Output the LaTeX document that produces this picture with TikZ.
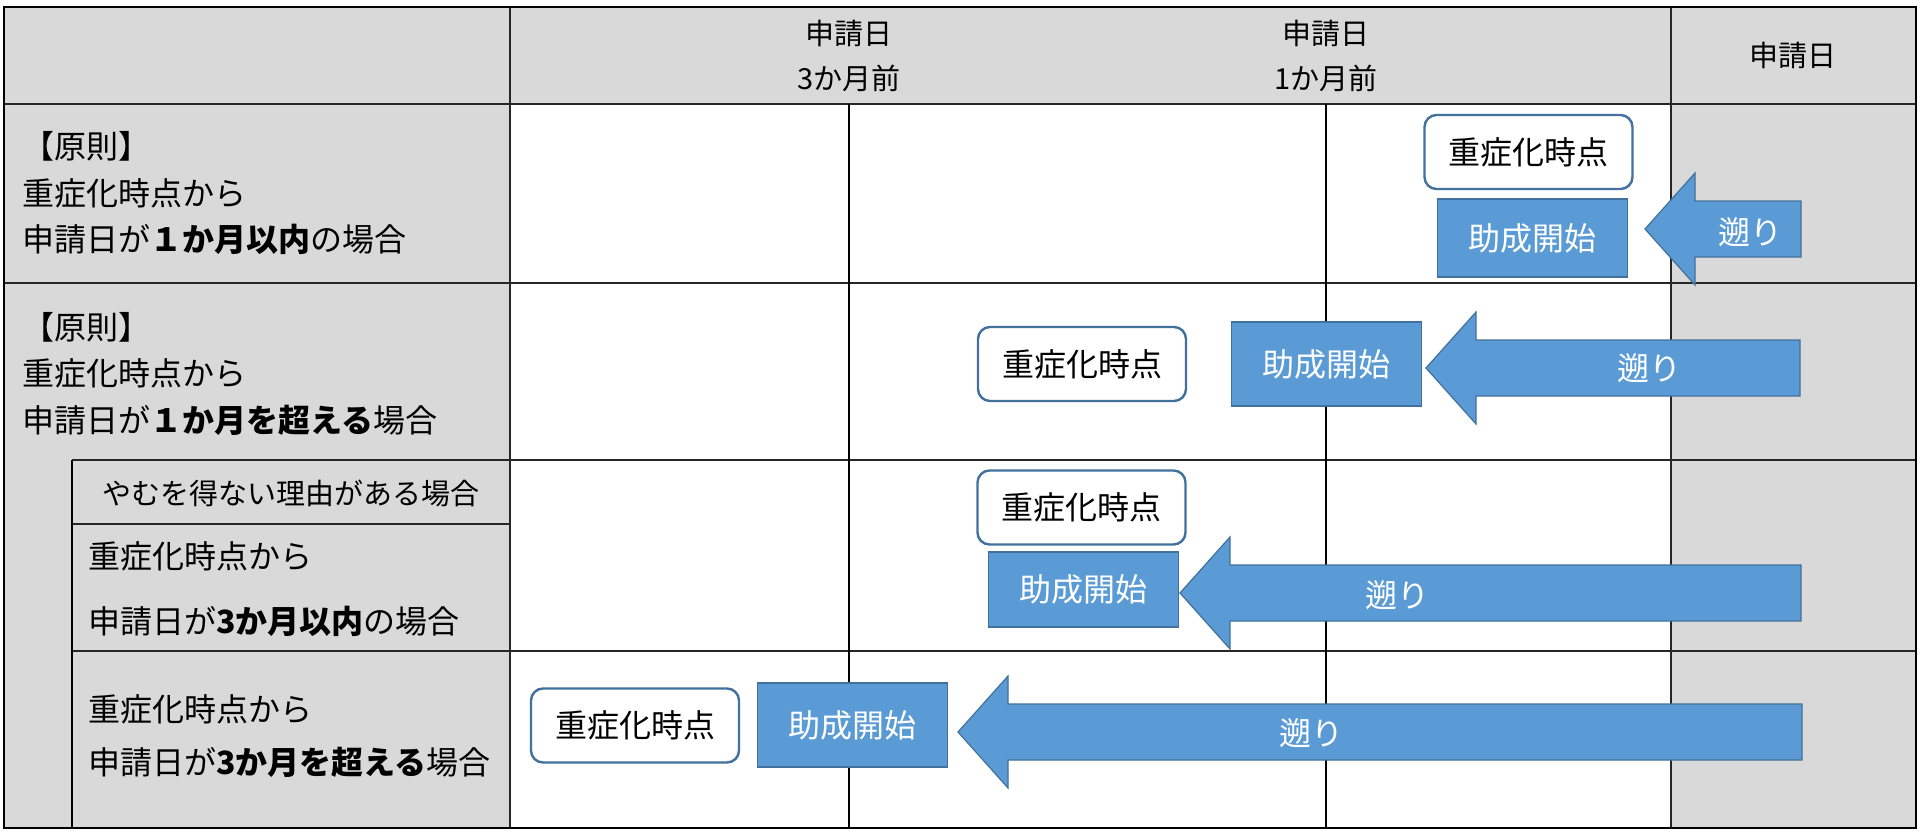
\documentclass[tikz,border=0pt]{standalone}
\usepackage{fontspec}
\setmainfont{Noto Sans CJK JP}
\definecolor{cellgray}{HTML}{D9D9D9}
\definecolor{bluefill}{HTML}{5B9BD5}
\definecolor{blueline}{HTML}{41719C}
\newcommand{\blkarrow}[3]{% tipx, y, tailx
  \filldraw[fill=bluefill,draw=blueline,line width=0.6pt,line join=miter]
    (#3,#2-28) -- (#1+50,#2-28) -- (#1+50,#2-56) -- (#1,#2) -- (#1+50,#2+56)
    -- (#1+50,#2+28) -- (#3,#2+28) -- cycle;}
\begin{document}
\begin{tikzpicture}[x=0.5pt,y=-0.5pt,
  hline/.style={line width=0.9pt,draw=black!85},
  vline/.style={line width=0.6pt,draw=black},
  lbl/.style={inner sep=0pt,anchor=west,align=left},
  hdr/.style={inner sep=0pt,align=center,font=\fontsize{14.5pt}{22.5pt}\selectfont},
  okbox/.style={draw=blueline,line width=1.2pt,fill=white,rounded corners=6pt,
     minimum width=104pt,minimum height=37pt,inner sep=0pt,font=\fontsize{16pt}{18pt}\selectfont},
  jobox/.style={draw=blueline,line width=0.6pt,fill=bluefill,text=white,
     minimum width=95pt,inner sep=0pt,font=\fontsize{16pt}{18pt}\selectfont},
  sotxt/.style={text=white,inner sep=0pt,font=\fontsize{16pt}{18pt}\selectfont}]
\useasboundingbox (0,0) rectangle (1921,835);
% backgrounds
\fill[cellgray] (4,7) rectangle (1916,828);
\fill[white] (510,104) rectangle (1671,828);
% horizontal lines
\draw[hline] (4,104) -- (1916,104);
\draw[hline] (4,283) -- (1916,283);
\draw[hline] (72,460) -- (1916,460);
\draw[hline] (72,524) -- (510,524);
\draw[hline] (72,651) -- (1916,651);
% vertical lines
\draw[vline] (72,460) -- (72,828);
\draw[vline] (849,104) -- (849,828);
\draw[vline] (1326,104) -- (1326,828);
\draw[hline] (510,7) -- (510,828);
\draw[hline] (1671,7) -- (1671,828);
% outer border
\draw[line width=1.1pt] (4,7) rectangle (1916,828);
% header
\node[hdr] (hdr1) at (849,56) {申請日\\3か月前};
\node[hdr] (hdr2) at (1326,56) {申請日\\1か月前};
\node[hdr] (hdr3) at (1793,55) {申請日};
% left labels
\node[lbl,font=\fontsize{16pt}{23.25pt}\selectfont] (l1) at (22,193.5)
  {【原則】\\重症化時点から\\申請日が\textbf{１か月以内}の場合};
\node[lbl,font=\fontsize{16pt}{23.25pt}\selectfont] (l2) at (22,373.5)
  {【原則】\\重症化時点から\\申請日が\textbf{１か月を超える}場合};
\node[inner sep=0pt,font=\fontsize{14.5pt}{18pt}\selectfont] (l3a) at (291,493) {やむを得ない理由がある場合};
\node[lbl,font=\fontsize{16pt}{32.5pt}\selectfont] (l3) at (88,589.5)
  {重症化時点から\\申請日が\textbf{3か月以内}の場合};
\node[lbl,font=\fontsize{16pt}{26.5pt}\selectfont] (l4) at (88,736.5)
  {重症化時点から\\申請日が\textbf{3か月を超える}場合};
% arrows
\blkarrow{1645}{229}{1801}
\blkarrow{1426}{368}{1800}
\blkarrow{1180}{593}{1801}
\blkarrow{958}{732}{1802}
\node[sotxt] (s1) at (1750,232) {遡り};
\node[sotxt] (s2) at (1649,368) {遡り};
\node[sotxt] (s3) at (1397,595) {遡り};
\node[sotxt] (s4) at (1311,733) {遡り};
% row 1
\node[okbox] (k1) at (1528.5,152) {重症化時点};
\node[jobox,minimum height=39pt] (j1) at (1532.5,238) {助成開始};
% row 2
\node[okbox] (k2) at (1082,364) {重症化時点};
\node[jobox,minimum height=42pt] (j2) at (1326.5,364) {助成開始};
% row 3
\node[okbox] (k3) at (1081.5,507.5) {重症化時点};
\node[jobox,minimum height=37.5pt] (j3) at (1083.5,589.5) {助成開始};
% row 4
\node[okbox] (k4) at (635,725.5) {重症化時点};
\node[jobox,minimum height=42pt] (j4) at (852.5,725) {助成開始};
\end{tikzpicture}
\end{document}
